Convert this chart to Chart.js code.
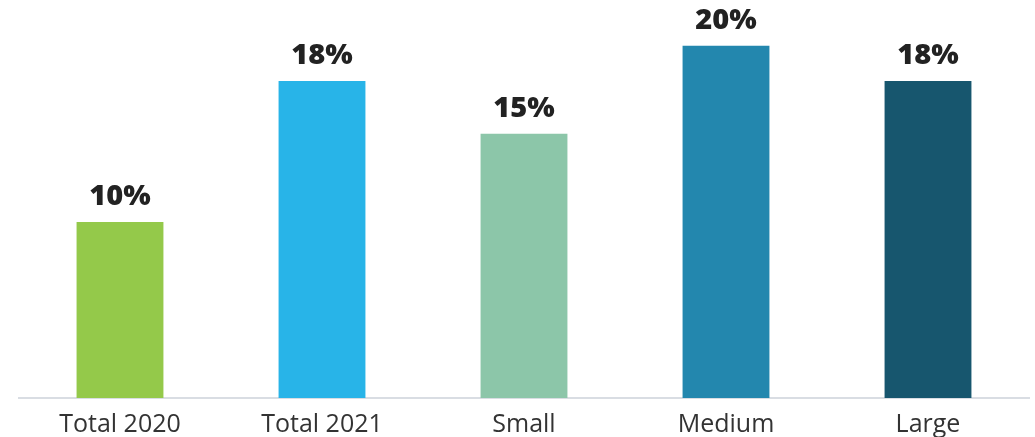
<!DOCTYPE html>
<html>

<head>
	<meta charset="utf-8">
	<title>Share by size</title>
	<script src="https://cdn.jsdelivr.net/npm/chart.js@4/dist/chart.umd.min.js"></script>
	<style>
		html, body { margin: 0; padding: 0; background: #fff; }
		#wrap { width: 1035px; height: 437px; }
	</style>
</head>

<body>
	<div id="wrap">
		<canvas id="myChart"></canvas>
	</div>

	<script>
		const categories = ["Total 2020", "Total 2021", "Small", "Medium", "Large"];
		const values = [10, 18, 15, 20, 18];
		const barColors = ["#94c94a", "#28b4e8", "#8cc6a9", "#2387ae", "#17566e"];

		// value on top of each bar
		const topLabels = {
			id: 'topLabels',
			afterDatasetsDraw(chart) {
				const ctx = chart.ctx;
				const meta = chart.getDatasetMeta(0);
				ctx.save();
				ctx.font = '800 29px "Open Sans"';
				ctx.fillStyle = '#222';
				ctx.textAlign = 'center';
				ctx.textBaseline = 'alphabetic';
				meta.data.forEach(function (bar, i) {
					ctx.fillText(values[i] + '%', bar.x, bar.y - 17);
				});
				ctx.restore();
			}
		};

		new Chart(document.getElementById('myChart'), {
			type: 'bar',
			data: {
				labels: categories,
				datasets: [{
					data: values,
					backgroundColor: barColors,
					categoryPercentage: 0.86,
					barPercentage: 0.5
				}]
			},
			options: {
				responsive: true,
				maintainAspectRatio: false,
				animation: false,
				layout: { padding: { left: 19, right: 6, top: 0, bottom: 0 } },
				plugins: { legend: { display: false }, tooltip: { enabled: false } },
				scales: {
					x: {
						grid: { display: false },
						border: { color: '#d9dde3', width: 2 },
						ticks: { color: '#333', font: { family: 'Open Sans', size: 25 }, padding: 4 },
						afterFit(scale) { scale.height = 39; }
					},
					y: {
						display: false,
						min: 0,
						max: 22.6
					}
				}
			},
			plugins: [topLabels]
		});
	</script>
</body>

</html>
